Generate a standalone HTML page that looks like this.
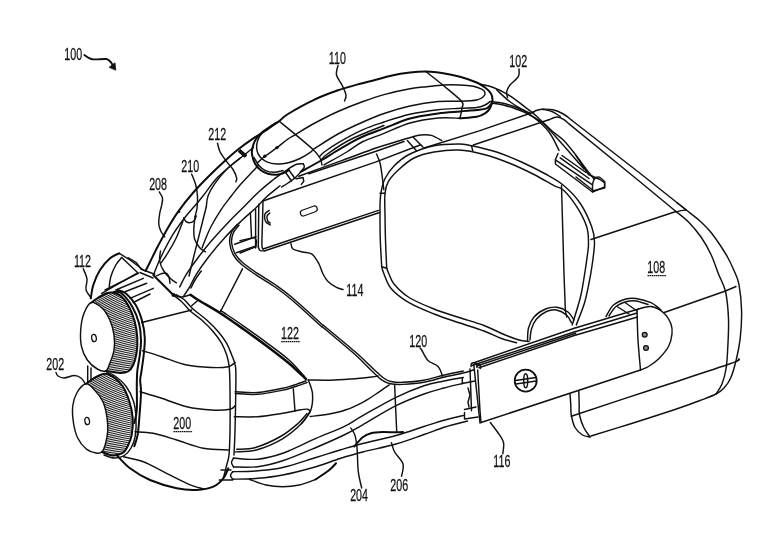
<!DOCTYPE html>
<html lang="en"><head><meta charset="utf-8"><title>Figure</title>
<style>
html,body{margin:0;padding:0;background:#fff;}
body{width:768px;height:547px;overflow:hidden;}
svg{display:block;}
svg text{font-family:"Liberation Sans",sans-serif;fill:#111;stroke:#111;stroke-width:0.25px;}
</style></head><body>
<svg width="768" height="547" viewBox="0 0 768 547">
<rect width="768" height="547" fill="#fff"/>
<g fill="#fff" stroke="#111" stroke-width="1.45" stroke-linecap="round" stroke-linejoin="round">
</g>
<g fill="none" stroke="#111" stroke-width="1.45" stroke-linecap="round" stroke-linejoin="round">
<path d="M279.2 121.3C277.7 122.3 272.9 125.5 270.0 127.5C267.1 129.5 263.8 131.2 261.7 133.5C259.6 135.8 258.3 138.4 257.5 141.0C256.7 143.6 256.3 146.7 256.7 149.3C257.1 151.9 258.3 154.7 260.0 156.8C261.7 158.9 263.9 160.6 266.7 161.8C269.5 163.0 273.1 163.8 276.7 164.0C280.3 164.2 284.4 163.6 288.3 162.7C292.2 161.8 296.4 160.2 300.0 158.5C303.6 156.8 307.8 154.2 310.0 152.7C312.2 151.2 312.5 150.0 313.0 149.5"/>
<path d="M279.2 121.3C281.9 123.5 289.9 129.9 295.5 134.6C301.1 139.3 308.9 145.6 313.0 149.5C317.1 153.4 318.5 155.4 320.0 158.0C321.5 160.6 321.7 163.8 322.0 165.0"/>
<path d="M257.5 162.7C258.8 161.6 261.8 158.8 265.0 156.3C268.2 153.8 273.2 150.6 277.0 147.7C280.8 144.8 284.9 141.2 288.0 139.0C291.1 136.8 291.3 137.1 295.5 134.6C299.7 132.1 305.9 127.8 313.0 124.0C320.1 120.2 329.7 115.2 338.0 111.5C346.3 107.8 355.3 104.3 363.0 101.5C370.7 98.7 376.2 96.7 384.0 94.6C391.8 92.5 402.9 90.1 410.0 88.8C417.1 87.5 421.1 87.3 426.7 86.7C432.2 86.1 437.8 85.3 443.3 85.0C448.9 84.7 455.0 84.8 460.0 85.0C465.0 85.2 469.7 85.6 473.3 86.3C476.9 87.0 479.8 88.2 481.7 89.2C483.6 90.2 484.7 91.2 485.0 92.5C485.3 93.8 484.7 95.5 483.3 96.7C481.9 98.0 480.6 99.2 476.7 100.0C472.8 100.8 466.4 101.0 460.0 101.2C453.6 101.5 446.3 100.7 438.0 101.5C429.7 102.3 419.0 104.0 410.0 106.0C401.0 108.0 391.8 110.8 384.0 113.5C376.2 116.2 370.7 118.6 363.0 122.0C355.3 125.4 346.3 129.4 338.0 134.0C329.7 138.6 317.2 146.9 313.0 149.5"/>
<path d="M426.0 71.7C429.0 74.1 438.1 81.0 444.0 86.0C449.9 91.0 458.7 97.8 461.7 101.5C464.7 105.2 462.3 105.2 462.0 108.0C461.7 110.8 460.3 116.6 460.0 118.3"/>
<path d="M319.5 156.5C320.3 155.8 321.2 154.3 324.3 152.0C327.4 149.7 331.6 146.5 338.0 142.8C344.4 139.1 355.3 133.1 363.0 129.6C370.7 126.1 376.2 124.6 384.0 122.0C391.8 119.4 401.0 116.2 410.0 114.2C419.0 112.2 429.7 110.7 438.0 109.7C446.3 108.7 453.6 108.7 460.0 108.3C466.4 107.9 472.5 108.0 476.7 107.5C480.9 107.0 482.8 106.0 485.0 105.0C487.2 104.0 489.2 102.2 490.0 101.7"/>
<path d="M321.0 160.0C322.2 158.9 323.1 156.9 328.0 153.5C332.9 150.1 341.2 144.2 350.5 139.5C359.8 134.8 378.4 127.8 384.0 125.5"/>
<path d="M324.0 165.0C327.8 162.8 340.3 155.9 346.8 152.0C353.3 148.1 356.8 144.6 363.0 141.5C369.2 138.4 376.2 136.5 384.0 133.4C391.8 130.3 401.0 125.6 410.0 123.0C419.0 120.4 429.7 118.8 438.0 118.0C446.3 117.2 456.3 118.2 460.0 118.3"/>
<path d="M533.0 111.9C533.7 111.6 535.4 110.7 537.0 110.2C538.6 109.8 539.8 109.3 542.5 109.2C545.2 109.1 549.5 109.0 553.0 109.8C556.5 110.6 560.2 112.3 563.3 114.0C566.4 115.7 570.3 119.2 571.7 120.2"/>
<path d="M571.7 120.2L640.0 173.3L686.3 210.0"/>
<path d="M676.3 211.9L681.0 210.6L686.3 210.0"/>
<path d="M677.0 202.7C678.5 203.9 682.7 207.1 686.3 210.0C689.9 212.9 694.8 216.4 698.8 220.0C702.8 223.6 706.5 227.1 710.0 231.3C713.5 235.5 717.1 240.7 720.0 245.0C722.9 249.3 725.2 252.8 727.5 257.0C729.8 261.2 732.1 266.0 734.0 270.5C735.9 275.0 737.6 277.4 738.9 284.2C740.2 291.0 741.4 302.3 741.6 311.3C741.8 320.3 741.1 330.3 740.2 338.4C739.3 346.5 737.8 353.4 736.2 360.0C734.6 366.6 732.7 373.3 730.7 378.0C728.7 382.7 726.5 385.3 724.0 388.0C721.5 390.7 720.0 391.9 716.0 394.0C712.0 396.1 707.1 397.8 700.0 400.5C692.9 403.2 685.2 406.1 673.5 410.0C661.8 413.9 643.8 419.7 630.0 424.0C616.2 428.3 597.5 434.0 591.0 436.0"/>
<path d="M569.6 124.4L640.0 181.7L676.0 211.5"/>
<path d="M676.0 211.5C678.1 213.2 684.3 217.8 688.5 222.0C692.7 226.2 697.2 231.6 701.0 237.0C704.8 242.4 708.1 248.3 711.0 254.5C713.9 260.7 716.1 267.8 718.5 274.0C720.9 280.2 723.8 284.0 725.5 291.5C727.2 299.0 728.1 309.4 728.5 319.0C728.9 328.6 728.1 340.7 727.7 349.0C727.3 357.3 727.0 363.2 726.0 369.0C725.0 374.8 723.7 379.8 722.0 384.0C720.3 388.2 717.0 392.3 716.0 394.0"/>
<path d="M676.0 211.5L591.0 239.5"/>
<path d="M663.5 312.7L725.5 291.0L736.0 286.5"/>
<path d="M571.3 416.3C584.4 411.9 623.5 398.9 650.0 390.2C676.5 381.4 715.2 369.0 730.0 363.8C744.8 358.6 737.3 359.6 738.8 358.8"/>
<path d="M570.0 393.8C570.1 395.7 570.6 401.5 570.8 405.0C571.0 408.5 570.6 411.2 571.3 415.0C572.0 418.8 573.1 424.2 575.0 427.5C576.9 430.8 580.0 433.4 582.5 435.0C585.0 436.6 588.8 436.7 590.0 437.0"/>
<path d="M578.8 391.3C578.9 393.6 579.1 401.1 579.2 405.0C579.3 408.9 578.7 411.2 579.5 415.0C580.3 418.8 582.0 423.8 583.8 427.5C585.5 431.2 589.0 435.4 590.0 437.0"/>
<path d="M576.0 327.7L638.5 309.0"/>
<path d="M576.0 331.5L637.0 313.0"/>
<path d="M576.0 335.0L637.5 317.0"/>
<path d="M638.5 309.0C640.6 308.6 646.8 305.9 651.0 306.5C655.2 307.1 660.2 309.8 663.5 312.7C666.8 315.6 669.6 320.4 671.0 324.0C672.4 327.6 672.4 330.2 672.0 334.0C671.6 337.8 670.8 342.3 668.5 346.5C666.2 350.7 661.8 355.7 658.5 359.0C655.2 362.3 651.5 364.7 648.5 366.5C645.5 368.3 641.8 369.4 640.5 370.0"/>
<path d="M637.0 310.0C637.2 315.0 637.4 330.0 638.0 340.0C638.6 350.0 640.1 365.0 640.5 370.0"/>
<path d="M606.0 316.5C607.2 314.6 610.2 307.9 613.5 305.0C616.8 302.1 622.2 300.1 626.0 299.0C629.8 297.9 631.8 297.9 636.0 298.5C640.2 299.1 646.8 300.8 651.0 302.7C655.2 304.6 659.3 308.8 661.0 310.0"/>
<path d="M609.0 316.0C610.2 314.4 613.0 308.9 616.0 306.5C619.0 304.1 623.7 302.4 627.0 301.5C630.3 300.6 632.5 300.5 636.0 301.0C639.5 301.5 646.0 303.9 648.0 304.5"/>
<path d="M617.0 306.5L629.0 314.0"/>
<path d="M625.0 302.5L637.0 311.0"/>
<path d="M576.0 155.7L588.5 174.5L600.0 179.5L604.7 183.0L604.7 188.0L593.5 190.7L576.0 177.0"/>
<path d="M423.3 148.3L480.0 130.6L534.0 112.0"/>
<path d="M473.3 145.0L548.8 119.8"/>
<path d="M548.8 119.8C550.2 119.3 554.6 117.1 557.0 117.0C559.4 116.9 561.2 118.0 563.3 119.2C565.4 120.4 568.5 123.5 569.6 124.4"/>
<path d="M542.5 109.2C544.1 109.6 549.0 110.3 552.0 111.5C555.0 112.7 558.8 115.7 560.2 116.5"/>
<path d="M480.0 84.2C482.2 84.8 488.3 85.6 493.3 87.5C498.3 89.4 504.4 92.3 510.0 95.8C515.6 99.3 522.0 104.7 526.7 108.3C531.4 111.9 533.8 113.7 538.0 117.5C542.2 121.3 547.8 127.2 552.0 131.0C556.2 134.8 559.3 136.0 563.3 140.0C567.3 144.0 572.1 150.3 575.8 155.0C579.4 159.7 583.6 165.8 585.2 168.0"/>
<path d="M492.5 103.3C494.3 103.6 499.3 104.0 503.3 105.0C507.3 106.0 512.6 107.7 516.7 109.2C520.8 110.7 523.7 111.7 528.0 114.0C532.3 116.3 538.0 119.3 542.5 123.0C547.0 126.7 550.8 131.5 555.0 136.0C559.2 140.5 562.7 144.5 567.5 150.0C572.3 155.5 581.2 165.8 584.0 169.0"/>
<path d="M490.0 101.5C492.2 101.8 498.9 102.3 503.3 103.3C507.8 104.3 512.2 105.9 516.7 107.5C521.2 109.1 527.8 112.1 530.0 113.0"/>
<path d="M496.7 90.0C499.1 92.1 505.1 98.2 511.0 102.5C516.9 106.8 525.7 111.1 532.0 116.0C538.3 120.9 544.3 126.0 548.8 131.7C553.3 137.4 557.3 147.3 559.0 150.4"/>
<path d="M558.0 153.5L555.4 159.8L555.4 164.0L592.5 192.0L604.6 186.9L604.6 181.7"/>
<path d="M592.5 184.8C592.8 183.9 593.1 180.5 594.2 179.2C595.3 177.9 597.5 176.7 599.2 177.1C600.9 177.5 603.7 180.9 604.6 181.7"/>
<path d="M555.4 159.8L592.5 184.8L592.5 192.0"/>
<path d="M560.2 157.8L589.0 178.5"/>
<path d="M562.0 155.5L586.0 172.5"/>
<path d="M585.2 168.0L594.2 179.2"/>
<path d="M381.7 266.7C381.5 262.2 380.6 248.6 380.3 240.0C380.0 231.4 380.0 221.7 380.0 215.0C380.0 208.3 379.9 204.2 380.2 200.0C380.4 195.8 380.7 193.6 381.5 190.0C382.3 186.4 382.9 182.5 385.0 178.5C387.1 174.5 390.0 170.0 394.0 166.0C398.0 162.0 402.3 157.9 409.0 154.5C415.7 151.1 425.7 147.4 434.0 145.7C442.3 143.9 452.8 144.0 459.0 144.0C465.2 144.0 465.2 144.4 471.5 145.7C477.8 147.0 488.2 149.3 496.5 152.0C504.8 154.7 513.2 158.2 521.5 162.0C529.8 165.8 539.4 170.6 546.5 174.5C553.6 178.4 558.4 180.9 564.0 185.7C569.6 190.4 575.4 196.2 580.0 203.0C584.6 209.8 589.3 220.2 591.7 226.7C594.1 233.2 594.4 236.0 594.5 242.0C594.6 248.0 593.4 255.7 592.5 262.5C591.6 269.3 590.4 276.2 589.0 283.0C587.6 289.8 586.5 296.2 584.4 303.2C582.3 310.2 577.6 321.3 576.3 324.9"/>
<path d="M386.7 268.3C386.5 263.6 385.8 248.9 385.5 240.0C385.2 231.1 385.1 222.8 385.0 215.0C384.9 207.2 384.4 198.9 385.0 193.3C385.6 187.8 386.1 185.6 388.3 181.7C390.5 177.8 394.0 173.9 398.3 170.0C402.6 166.1 408.1 161.0 414.0 158.0C419.9 155.0 426.5 153.3 434.0 152.0C441.5 150.7 450.7 149.6 459.0 150.0C467.3 150.4 475.7 152.3 484.0 154.5C492.3 156.7 500.7 159.7 509.0 163.0C517.3 166.3 526.5 170.7 534.0 174.5C541.5 178.3 549.1 183.1 554.0 185.7C558.9 188.3 559.5 186.5 563.3 190.0C567.1 193.5 572.8 200.6 576.7 206.7C580.6 212.8 584.7 220.6 586.7 226.7C588.7 232.8 588.4 238.2 588.5 243.3C588.6 248.4 587.9 251.3 587.1 257.1C586.4 262.9 585.1 271.2 584.0 278.0C582.9 284.8 582.3 290.0 580.3 297.8C578.3 305.6 573.6 320.4 572.2 324.9"/>
<path d="M561.5 185.7L564.0 274.0L565.4 311.3L566.8 317.0"/>
<path d="M471.5 145.7L472.7 150.7"/>
<path d="M386.7 268.3C387.1 269.2 387.8 271.4 389.0 274.0C390.2 276.6 390.7 280.1 394.0 284.0C397.3 287.9 402.3 293.3 409.0 297.5C415.7 301.7 425.7 305.7 434.0 309.0C442.3 312.3 450.7 314.8 459.0 317.5C467.3 320.2 476.5 322.7 484.0 325.5C491.5 328.3 498.2 332.1 504.0 334.5C509.8 336.9 514.8 338.8 519.0 340.0C523.2 341.2 527.3 341.2 529.0 341.5"/>
<path d="M381.7 266.7C382.1 267.9 382.4 270.3 384.0 274.0C385.6 277.7 387.3 284.2 391.5 289.0C395.7 293.8 401.9 298.5 409.0 302.7C416.1 306.9 425.7 310.7 434.0 314.0C442.3 317.3 450.7 319.9 459.0 322.7C467.3 325.5 476.9 328.4 484.0 331.0C491.1 333.6 496.1 336.6 501.5 338.5C506.9 340.4 514.0 342.0 516.5 342.7"/>
<path d="M380.0 193.3L385.0 193.3"/>
<path d="M381.7 266.7L386.7 268.3"/>
<path d="M530.0 340.0C530.2 338.2 530.4 332.5 531.5 329.0C532.6 325.5 534.0 321.9 536.5 319.0C539.0 316.1 543.2 313.0 546.5 311.5C549.8 310.0 553.2 309.4 556.5 310.0C559.8 310.6 564.0 312.9 566.5 315.0C569.0 317.1 570.7 321.4 571.5 322.7"/>
<path d="M527.5 341.0C527.7 338.8 527.4 332.0 528.5 328.0C529.6 324.0 531.2 320.2 534.0 317.0C536.8 313.8 541.7 310.6 545.5 309.0C549.3 307.4 553.2 306.8 557.0 307.3C560.8 307.8 565.2 309.9 568.0 312.0C570.8 314.1 573.0 318.7 574.0 320.0"/>
<path d="M474.0 362.7L575.7 327.7"/>
<path d="M472.0 365.5L575.7 331.5"/>
<path d="M479.0 367.7L575.7 335.0"/>
<path d="M477.5 365.8L575.7 333.2"/>
<path d="M471.0 366.5C471.1 366.0 471.0 364.1 471.5 363.5C472.0 362.9 473.2 362.6 474.0 362.7C474.8 362.8 476.0 363.3 476.5 364.0C477.0 364.7 476.9 366.5 477.0 367.0"/>
<path d="M477.0 367.0C477.1 366.6 477.3 365.1 477.8 364.8C478.3 364.5 479.6 364.4 480.0 365.0C480.4 365.6 480.4 367.9 480.5 368.5"/>
<path d="M477.7 370.0L480.0 410.7L481.0 422.5"/>
<path d="M470.0 369.0L471.5 410.7"/>
<path d="M481.0 422.5L640.5 370.0"/>
<path d="M515.5 380.5L536.0 377.5"/>
<path d="M515.8 384.0L536.3 381.0"/>
<path d="M263.0 201.0L280.0 195.0L376.0 161.9L420.8 144.8"/>
<path d="M298.8 176.3C305.9 173.7 328.8 165.3 341.7 160.6C354.6 155.9 367.3 151.0 376.0 148.0C384.7 145.0 388.1 144.2 393.8 142.5C399.5 140.8 405.9 138.8 410.4 137.5C414.9 136.2 417.3 135.3 420.8 135.0C424.3 134.7 427.8 134.5 431.3 135.4C434.8 136.3 440.0 139.7 441.7 140.6"/>
<path d="M308.8 173.8L376.0 151.3L404.0 141.5"/>
<path d="M407.3 140.6L416.7 151.0"/>
<path d="M413.5 137.5L422.9 146.9"/>
<path d="M263.0 249.0L378.5 210.4"/>
<path d="M265.0 250.8L379.6 212.5"/>
<path d="M263.0 201.0C262.9 205.0 262.6 217.7 262.4 225.0C262.2 232.3 261.8 241.0 261.9 245.0C262.0 249.0 262.8 248.3 263.0 249.0"/>
<path d="M258.8 204.2L258.3 246.9"/>
<path d="M255.6 209.4L255.6 247.9"/>
<path d="M250.4 212.5L251.5 237.5"/>
<path d="M258.3 246.9C258.6 247.5 258.9 249.8 260.0 250.5C261.1 251.2 264.2 250.8 265.0 250.8"/>
<path d="M269.2 210.4C268.5 210.9 266.0 212.3 265.2 213.5C264.4 214.7 264.5 216.3 264.6 217.7C264.7 219.1 265.1 220.8 266.0 222.0C266.9 223.2 269.5 224.5 270.2 225.0"/>
<path d="M269.8 213.0C269.4 213.4 267.8 214.7 267.3 215.5C266.8 216.3 266.9 217.0 267.0 218.0C267.1 219.0 267.5 220.7 268.0 221.5C268.5 222.3 269.8 222.8 270.2 223.0"/>
<path d="M240.0 240.6L254.6 237.5"/>
<path d="M240.0 253.0L255.6 246.9"/>
<path d="M254.6 237.5C254.9 238.1 256.3 239.4 256.5 241.0C256.7 242.6 255.8 245.9 255.6 246.9"/>
<path d="M376.5 154.0C377.1 155.5 379.1 159.5 380.0 163.0C380.9 166.5 381.4 170.6 382.0 175.0C382.6 179.4 383.5 187.2 383.8 189.6"/>
<path d="M291.0 243.8C291.3 244.7 291.1 247.6 293.0 249.0C294.9 250.4 299.3 251.1 302.5 252.0C305.7 252.9 309.2 252.2 312.0 254.2C314.8 256.2 317.2 260.7 319.0 264.0C320.8 267.3 321.5 271.1 323.0 274.0C324.5 276.9 325.7 279.2 328.0 281.5C330.3 283.8 334.5 286.4 337.0 287.7C339.5 289.0 342.0 289.2 343.0 289.5"/>
<path d="M253.3 147.5C251.6 148.9 246.9 152.9 243.3 155.8C239.7 158.7 236.1 161.2 231.7 165.0C227.3 168.8 221.5 173.1 216.7 178.3C211.9 183.5 206.7 191.4 203.0 196.0C199.3 200.6 197.8 202.4 194.7 206.0C191.6 209.6 188.3 213.0 184.7 217.7C181.1 222.4 176.6 228.5 173.0 234.3C169.4 240.1 165.8 247.1 163.0 252.7C160.2 258.3 157.8 264.1 156.3 267.7C154.8 271.3 154.2 273.2 153.8 274.3"/>
<path d="M240.0 158.3C237.8 160.1 230.9 165.0 226.7 169.2C222.5 173.4 218.1 178.8 215.0 183.3C211.9 187.8 209.4 192.1 208.0 196.0C206.6 199.9 206.6 205.0 206.3 206.8"/>
<path d="M206.3 206.8L192.2 262.7L189.0 276.0"/>
<path d="M183.8 217.7C184.1 218.2 184.7 220.2 185.5 221.0C186.3 221.8 187.4 222.7 188.8 222.7C190.2 222.7 192.6 222.1 193.8 221.0C195.1 219.9 195.9 216.8 196.3 216.0"/>
<path d="M183.0 221.0C181.9 223.8 178.8 232.4 176.3 237.7C173.8 243.0 170.5 248.5 168.0 252.7C165.5 256.9 162.4 261.0 161.3 262.7"/>
<path d="M160.5 251.0C160.4 252.7 159.1 257.7 159.7 261.0C160.2 264.3 161.9 267.9 163.8 271.0C165.7 274.1 169.2 277.4 171.3 279.3C173.4 281.2 175.5 282.1 176.3 282.7"/>
<path d="M258.3 165.0C257.5 166.0 256.4 167.5 253.3 170.8C250.2 174.1 243.7 180.8 240.0 185.0C236.3 189.2 234.4 191.9 231.3 196.0C228.2 200.1 224.6 204.3 221.3 209.3C218.0 214.3 214.1 220.7 211.3 226.0C208.5 231.3 206.2 237.4 204.7 241.0C203.2 244.6 202.6 246.6 202.2 247.7"/>
<path d="M275.0 178.3C272.5 180.4 265.1 186.2 260.0 190.8C254.9 195.4 250.0 200.7 244.7 206.0C239.4 211.3 233.6 216.9 228.0 222.7C222.4 228.5 216.3 235.2 211.3 241.0C206.3 246.8 202.2 252.1 198.0 257.7C193.8 263.2 189.4 269.4 186.3 274.3C183.2 279.2 180.8 284.9 179.7 287.0"/>
<path d="M280.0 185.8C277.8 187.6 270.7 193.0 266.7 196.7C262.7 200.3 260.2 203.6 256.0 207.7C251.8 211.8 246.5 216.0 241.3 221.0C236.1 226.0 230.2 231.6 224.7 237.7C219.1 243.8 212.7 251.6 208.0 257.7C203.3 263.8 199.4 269.4 196.3 274.3C193.2 279.2 190.8 284.9 189.7 287.0"/>
<path d="M201.3 271.0C200.2 272.5 196.7 277.2 195.0 280.0C193.3 282.8 191.7 286.7 191.0 288.0"/>
<path d="M217.5 143.3C217.9 144.7 218.5 148.6 220.0 151.7C221.5 154.8 224.5 158.6 226.7 161.7C228.9 164.8 231.6 167.2 233.3 170.0C235.0 172.8 236.3 176.4 236.7 178.3C237.1 180.2 236.0 181.1 235.8 181.7"/>
<path d="M191.7 174.2C192.4 176.0 194.8 181.2 195.8 185.0C196.8 188.8 197.3 192.8 197.5 196.7C197.7 200.6 197.4 205.0 197.0 208.3C196.6 211.6 195.3 215.3 195.0 216.7"/>
<path d="M159.2 191.9C159.8 192.9 162.1 195.7 162.5 198.0C162.9 200.3 162.0 203.4 161.5 206.0C161.0 208.6 160.1 210.4 159.7 213.5C159.2 216.6 158.6 221.3 158.8 224.3C159.0 227.3 160.0 229.4 161.0 231.5C162.0 233.6 164.1 235.9 164.7 236.8"/>
<path d="M338.0 65.5C337.8 67.1 335.8 71.8 336.5 75.0C337.2 78.2 340.4 81.7 342.0 85.0C343.6 88.3 345.6 92.3 346.0 95.0C346.4 97.7 344.8 100.0 344.5 101.0"/>
<path d="M519.0 69.0C518.9 70.3 519.8 74.0 518.3 76.7C516.8 79.4 511.9 82.5 510.0 85.0C508.1 87.5 507.1 89.6 506.7 91.7C506.3 93.8 507.4 96.5 507.5 97.5"/>
<path d="M195.0 216.7C194.8 218.8 193.9 225.5 193.8 229.3C193.8 233.1 193.7 236.2 194.7 239.3C195.7 242.4 197.9 245.6 199.7 247.7C201.5 249.8 204.5 251.1 205.5 251.8"/>
<path d="M83.3 268.8C83.9 270.5 86.5 275.5 87.0 279.0C87.5 282.5 85.3 286.4 86.0 289.6C86.7 292.8 90.4 296.6 91.3 298.0"/>
<path d="M91.5 302.5C88.5 303.3 85.8 308.7 84.0 313.3C82.2 317.9 81.1 324.4 80.7 330.0C80.3 335.6 80.4 341.7 81.5 346.7C82.6 351.7 84.7 356.3 87.3 360.0C89.9 363.7 94.2 367.2 97.3 369.0C100.4 370.8 103.6 371.9 105.7 371.0C107.8 370.1 108.4 366.8 109.8 363.3C111.2 359.8 113.3 354.7 114.0 350.0C114.7 345.3 114.7 340.0 114.0 335.0C113.3 330.0 111.8 324.4 109.8 320.0C107.8 315.6 105.3 311.2 102.3 308.3C99.2 305.4 94.5 301.7 91.5 302.5Z"/>
<path d="M86.0 383.8C83.1 384.4 79.0 389.2 76.8 393.0C74.6 396.8 73.2 401.3 72.7 406.3C72.2 411.3 72.7 417.7 73.5 423.0C74.3 428.3 75.6 433.7 77.7 438.0C79.8 442.3 83.0 446.3 86.0 448.8C89.0 451.3 93.4 452.5 96.0 453.0C98.6 453.5 100.3 453.4 101.8 452.0C103.3 450.6 104.2 448.1 105.2 444.7C106.2 441.2 107.4 436.0 107.7 431.3C108.0 426.6 107.6 421.3 106.8 416.3C106.0 411.3 104.8 405.7 102.7 401.3C100.6 396.9 97.1 392.6 94.3 389.7C91.5 386.8 88.9 383.2 86.0 383.8Z"/>
<path d="M107.0 372.5C108.2 373.0 111.1 373.2 114.3 375.5C117.5 377.8 122.8 382.0 126.0 386.3C129.2 390.6 131.8 396.0 133.5 401.3C135.2 406.6 135.7 412.2 136.0 418.0C136.3 423.8 136.0 431.3 135.2 436.3C134.4 441.3 132.8 444.8 131.0 448.0C129.2 451.2 127.1 453.8 124.3 455.5C121.5 457.2 117.7 458.1 114.3 458.0C110.9 457.9 105.7 455.5 104.0 455.0"/>
<path d="M87.7 366.0L87.7 383.0"/>
<path d="M91.0 368.0L91.0 381.0"/>
<path d="M109.2 286.7C109.5 285.0 109.7 280.3 110.8 276.7C111.9 273.1 114.0 268.2 115.8 265.0C117.6 261.8 120.7 258.8 121.7 257.5"/>
<path d="M119.2 253.3L130.0 260.0L143.3 270.0"/>
<path d="M121.7 257.5L138.3 273.3"/>
<path d="M138.3 273.3L105.0 290.0"/>
<path d="M143.3 278.3L115.8 290.0"/>
<path d="M146.7 283.3L125.0 291.7"/>
<path d="M153.3 288.3L130.0 298.3"/>
<path d="M150.0 294.0L133.3 302.5"/>
<path d="M101.7 293.3L136.7 273.3"/>
<path d="M156.7 275.8C157.6 275.4 160.3 273.9 162.0 273.5C163.7 273.1 165.5 272.7 166.7 273.3C167.9 273.9 168.4 275.3 169.0 277.0C169.6 278.7 169.8 282.2 170.0 283.3"/>
<path d="M189.7 287.0L183.3 296.7"/>
<path d="M173.3 295.0C174.7 295.3 178.8 297.1 181.7 297.0C184.6 296.9 189.0 295.1 190.5 294.7"/>
<path d="M173.3 295.0C174.7 296.1 178.9 299.1 181.7 301.7C184.5 304.3 186.7 307.8 190.0 310.8C193.3 313.9 197.8 316.5 201.7 320.0C205.6 323.5 210.0 327.8 213.3 331.7C216.6 335.6 219.5 339.4 221.7 343.3C223.9 347.2 225.4 351.1 226.7 355.0C227.9 358.9 228.6 360.9 229.2 366.7C229.8 372.5 229.9 379.3 230.0 390.0C230.1 400.7 230.2 420.2 230.0 431.0C229.8 441.8 229.6 449.3 229.0 455.0C228.4 460.7 227.6 461.1 226.7 465.0C225.8 468.9 223.9 476.1 223.3 478.3"/>
<path d="M176.0 294.5C177.3 295.3 181.1 297.1 184.0 299.5C186.9 301.9 189.5 305.8 193.3 309.2C197.1 312.6 202.5 316.2 206.7 320.0C210.9 323.8 215.0 327.8 218.3 331.7C221.6 335.6 224.5 339.4 226.7 343.3C228.9 347.2 230.2 351.1 231.7 355.0C233.2 358.9 234.8 360.9 235.5 366.7C236.2 372.5 235.9 379.3 235.8 390.0C235.7 400.7 235.3 420.2 235.0 431.0C234.7 441.8 234.2 451.0 234.0 455.0"/>
<path d="M141.7 322.5L191.7 310.0"/>
<path d="M191.7 305.8L197.5 300.8"/>
<path d="M142.5 350.8C145.7 351.8 154.3 354.3 161.7 356.7C169.1 359.1 178.4 363.2 186.7 365.0C195.0 366.8 204.8 367.2 211.7 367.5C218.6 367.8 224.4 367.5 228.3 366.7C232.2 365.9 233.9 363.2 235.0 362.5"/>
<path d="M140.0 391.7C143.6 392.8 153.9 395.8 161.7 398.3C169.5 400.8 178.4 404.8 186.7 406.7C195.0 408.6 204.5 409.6 211.7 410.0C218.9 410.4 226.1 409.9 230.0 409.2C233.9 408.5 234.2 406.4 235.0 405.8"/>
<path d="M235.2 391.7C238.9 391.8 249.8 393.1 257.7 392.5C265.6 391.9 275.8 389.8 282.7 388.3C289.6 386.8 295.4 384.6 299.3 383.3C303.2 382.1 304.9 381.2 306.0 380.8"/>
<path d="M235.2 393.5C238.9 393.6 249.7 394.9 257.7 394.3C265.7 393.7 276.0 391.6 283.0 390.1C290.0 388.6 295.8 386.4 299.8 385.1C303.8 383.8 305.8 382.9 307.0 382.5"/>
<path d="M293.3 388.7L295.0 411.0"/>
<path d="M242.5 268.8L220.0 312.5"/>
<path d="M237.2 224.3C236.2 225.7 232.6 229.6 231.3 232.7C230.1 235.8 229.4 239.1 229.7 242.7C230.0 246.3 231.1 250.7 233.0 254.3C234.9 257.9 237.5 260.9 241.3 264.3C245.1 267.7 250.2 270.9 256.0 274.8C261.8 278.7 269.8 283.3 275.8 287.5C281.8 291.7 284.3 293.4 292.0 300.0C299.7 306.6 317.0 322.5 322.0 327.0"/>
<path d="M239.0 225.3C238.0 226.6 234.4 230.3 233.2 233.2C232.0 236.1 231.3 239.2 231.6 242.5C231.9 245.8 232.9 249.9 234.8 253.3C236.7 256.7 239.1 259.5 242.8 262.8C246.5 266.1 251.5 269.4 257.2 273.2C262.9 277.0 271.0 281.7 277.0 285.9C283.0 290.1 285.6 291.9 293.3 298.5C301.0 305.1 318.4 321.1 323.4 325.6"/>
<path d="M135.0 431.7C138.1 432.0 146.4 431.9 153.3 433.3C160.2 434.7 168.4 437.5 176.7 440.0C185.0 442.5 194.7 446.6 203.3 448.3C211.9 450.0 224.1 449.7 228.3 450.0"/>
<path d="M123.3 456.7C126.6 457.5 136.6 459.2 143.3 461.7C150.0 464.2 156.1 468.1 163.3 471.7C170.5 475.3 180.0 480.4 186.7 483.3C193.4 486.2 200.5 488.1 203.3 489.0"/>
<path d="M308.3 380.0C309.0 382.3 312.1 388.7 312.5 393.8C312.9 398.9 312.5 405.6 310.6 410.6C308.7 415.6 302.9 421.6 301.3 423.8"/>
<path d="M234.3 416.7C238.2 416.7 249.6 417.3 257.7 416.7C265.8 416.1 275.8 414.4 282.7 413.3C289.6 412.2 295.1 410.7 299.3 410.0C303.5 409.3 305.9 408.9 307.7 409.2C309.5 409.5 309.8 411.3 310.2 411.7"/>
<path d="M310.6 410.6C309.1 412.8 306.0 419.1 301.3 423.8C296.6 428.5 290.0 434.4 282.5 438.8C275.0 443.2 264.1 447.8 256.3 450.0C248.5 452.2 239.1 451.6 235.6 451.9"/>
<path d="M307.0 413.5C305.5 415.2 302.4 419.7 298.0 423.5C293.6 427.3 287.6 432.5 280.5 436.5C273.4 440.5 262.8 445.4 255.5 447.5C248.2 449.6 239.8 449.0 236.7 449.3"/>
<path d="M233.5 458.0C237.5 458.2 249.5 460.0 257.7 459.2C265.9 458.4 273.0 456.8 282.7 453.3C292.4 449.8 305.8 442.7 316.0 438.3C326.2 433.9 336.2 430.5 344.0 426.7C351.8 422.9 354.0 420.6 362.7 415.7C371.4 410.8 385.8 402.3 396.0 397.3C406.2 392.3 416.0 388.4 424.0 385.7C432.0 383.0 437.4 382.4 444.0 381.0C450.6 379.6 460.1 378.1 463.3 377.5"/>
<path d="M233.5 467.0C237.5 466.9 249.5 467.7 257.7 466.7C265.9 465.7 273.0 464.0 282.7 460.8C292.4 457.6 305.8 451.8 316.0 447.5C326.2 443.2 336.2 438.8 344.0 435.0C351.8 431.2 354.0 429.7 362.7 424.8C371.4 419.9 385.8 410.8 396.0 405.7C406.2 400.6 416.0 396.9 424.0 394.0C432.0 391.1 437.4 389.8 444.0 388.0C450.6 386.2 460.1 384.1 463.3 383.3"/>
<path d="M232.7 471.7C236.9 471.6 249.4 471.5 257.7 470.8C266.0 470.1 273.0 469.7 282.7 467.5C292.4 465.3 306.4 460.4 316.0 457.5C325.6 454.6 332.2 452.3 340.0 450.0C347.8 447.7 353.4 445.9 362.7 443.5C372.0 441.1 385.8 438.3 396.0 435.5C406.2 432.7 415.8 429.1 424.0 426.5C432.2 423.9 438.4 421.8 445.0 420.0C451.6 418.2 460.2 416.2 463.3 415.5"/>
<path d="M232.7 479.2C236.9 479.1 249.4 479.0 257.7 478.3C266.0 477.6 273.0 476.9 282.7 475.0C292.4 473.1 306.4 469.4 316.0 466.7C325.6 463.9 332.2 460.9 340.0 458.5C347.8 456.1 353.4 454.4 362.7 452.0C372.0 449.6 385.8 446.9 396.0 444.0C406.2 441.1 415.8 437.3 424.0 434.5C432.2 431.7 437.8 429.2 445.0 427.0C452.2 424.8 463.8 422.0 467.5 421.0"/>
<path d="M249.3 479.2C252.1 480.2 260.4 483.8 266.0 485.0C271.6 486.2 277.1 486.7 282.7 486.7C288.2 486.7 293.8 486.2 299.3 485.0C304.9 483.8 313.2 480.2 316.0 479.2"/>
<path d="M221.0 470.0L231.0 470.0"/>
<path d="M219.3 480.0L232.7 480.0"/>
<path d="M233.5 458.0C233.2 458.8 231.5 461.0 231.5 462.5C231.5 464.0 233.2 466.2 233.5 467.0"/>
<path d="M232.7 471.7C232.3 472.3 230.5 474.2 230.5 475.5C230.5 476.8 232.3 478.6 232.7 479.2"/>
<path d="M361.7 488.0C361.1 485.3 359.1 478.4 358.3 471.7C357.5 465.0 357.6 454.1 357.0 448.0C356.4 441.9 356.0 438.7 355.0 435.4C354.0 432.1 351.5 429.2 350.8 428.0"/>
<path d="M401.5 476.3C401.8 474.2 404.1 468.1 403.0 464.0C401.9 459.9 396.5 455.6 394.6 452.0C392.7 448.4 392.0 444.2 391.5 442.7"/>
<path d="M502.8 453.8C502.9 451.9 504.3 446.1 503.5 442.5C502.7 438.9 500.0 435.8 497.8 432.5C495.6 429.2 491.6 424.2 490.3 422.5"/>
<path d="M420.0 348.0C420.3 348.3 420.4 347.9 421.7 350.0C423.0 352.1 425.2 357.6 428.0 360.4C430.8 363.2 435.9 364.1 438.3 366.7C440.7 369.3 441.8 374.4 442.5 376.0"/>
<path d="M322.0 326.5C327.4 331.1 346.2 346.6 354.5 354.0C362.8 361.4 367.1 366.4 371.7 370.8C376.3 375.2 378.9 378.0 382.0 380.2C385.1 382.4 386.9 383.1 390.4 383.8C393.9 384.5 397.4 384.6 403.0 384.4C408.6 384.1 416.9 383.5 423.8 382.3C430.7 381.1 438.0 378.6 444.6 377.0C451.2 375.4 458.4 374.2 463.3 373.0C468.2 371.8 472.1 370.3 473.8 369.8"/>
<path d="M323.4 325.2C328.8 329.8 347.6 345.2 356.0 352.5C364.4 359.8 368.9 364.8 373.5 369.0C378.1 373.2 380.6 375.9 383.5 378.0C386.4 380.1 387.8 380.8 391.0 381.5C394.2 382.2 397.5 382.5 403.0 382.3C408.5 382.1 416.9 381.4 423.8 380.2C430.7 379.0 438.0 376.5 444.6 375.0C451.2 373.5 460.2 371.7 463.3 371.0"/>
<path d="M394.6 384.4L396.7 431.3"/>
<path d="M308.3 380.0C311.9 380.0 322.9 380.4 330.0 380.2C337.1 380.0 343.9 379.5 350.8 379.0C357.8 378.5 367.2 377.5 371.7 377.0C376.2 376.5 376.9 376.2 378.0 376.0"/>
<path d="M310.2 416.5C313.4 416.1 323.3 415.1 329.3 414.0C335.3 412.9 340.4 411.8 346.0 409.8C351.6 407.9 357.7 404.9 362.7 402.3C367.7 399.7 371.6 396.9 376.0 394.0C380.4 391.1 387.1 386.3 389.3 384.8"/>
<path d="M473.8 364.6L480.0 423.0"/>
<path d="M462.3 378.0L462.3 383.5L475.0 381.0"/>
<path d="M464.5 409.5L476.0 407.0"/>
<path d="M464.5 412.5L464.5 419.0L478.0 417.0"/>
<path d="M468.0 388.0L470.0 395.0L468.0 402.0L469.0 407.0"/>
<path d="M234.7 244.3L256.0 236.8"/>
<path d="M236.3 252.7L256.0 246.0"/>
<path d="M141.3 269.3L154.7 274.3"/>
<path d="M140.0 272.5L153.0 278.0"/>
<path d="M128.0 257.7L136.3 262.7L141.3 269.3"/>
<path d="M56.0 372.5C56.3 373.1 56.6 375.1 58.0 376.0C59.4 376.9 61.6 378.1 64.3 378.0C67.0 377.9 71.5 375.5 74.3 375.5C77.1 375.5 79.2 376.6 81.0 378.0C82.8 379.4 84.5 382.8 85.2 383.8"/>
<path d="M275.0 178.3C277.2 176.8 284.7 171.3 288.3 169.0C291.9 166.7 294.2 165.2 296.7 164.3C299.2 163.4 302.2 163.9 303.3 163.8"/>
<path d="M303.3 163.8C303.5 164.3 304.5 165.9 304.3 167.0C304.1 168.1 302.4 169.9 302.0 170.5"/>
<path d="M302.0 170.5C301.0 171.6 298.3 174.9 296.0 177.0C293.7 179.1 290.4 181.3 288.0 183.0C285.6 184.7 282.8 186.3 281.7 187.0"/>
<path d="M288.3 169.3L295.0 178.5"/>
<path d="M285.0 171.5L291.5 181.0"/>
<path d="M296.3 178.8L303.0 177.5L303.8 181.3L301.3 184.4"/>
<path d="M220.5 310.3C224.4 313.0 236.2 320.8 244.0 326.3C251.8 331.8 260.0 337.7 267.5 343.3C275.0 348.9 282.8 354.5 289.0 360.0C295.2 365.5 301.9 373.8 304.5 376.5"/>
<path d="M254.0 157.5C254.8 158.8 256.7 162.9 258.5 165.0C260.3 167.1 262.4 169.1 265.0 170.3C267.6 171.5 271.0 172.3 274.0 172.3C277.0 172.3 281.5 170.8 283.0 170.5"/>
</g>
<g fill="none" stroke="#111" stroke-width="0.95" stroke-linecap="butt">
<clipPath id="k0"><path d="M93.0 303.3L94.2 303.8L95.4 304.3L96.6 304.8L97.8 305.4L99.0 305.9L100.1 306.6L101.2 307.3L102.2 308.2L103.1 309.1L103.9 310.1L104.7 311.2L105.5 312.2L106.2 313.3L106.9 314.4L107.6 315.5L108.2 316.7L108.8 317.9L109.4 319.0L109.9 320.2L110.4 321.4L110.9 322.7L111.3 323.9L111.7 325.1L112.1 326.4L112.5 327.6L112.8 328.9L113.1 330.2L113.4 331.5L113.6 332.7L113.9 334.0L114.0 335.3L114.2 336.6L114.3 337.9L114.4 339.2L114.5 340.5L114.5 341.8L114.5 343.2L114.5 344.5L114.4 345.8L114.3 347.1L114.2 348.4L114.0 349.7L113.8 351.0L113.6 352.2L113.2 353.5L112.9 354.8L112.5 356.0L112.1 357.2L111.6 358.5L111.2 359.7L110.7 360.9L110.2 362.1L109.8 363.4L109.3 364.6L108.8 365.8L108.2 367.0L107.7 368.2L107.1 369.3L106.5 370.5L121.0 372.8L122.4 372.7L123.8 372.6L125.2 372.4L126.6 372.1L127.8 371.6L129.0 370.8L130.0 369.8L130.9 368.8L131.7 367.6L132.5 366.4L133.1 365.2L133.7 363.9L134.2 362.6L134.6 361.3L135.1 359.9L135.4 358.6L135.8 357.2L136.0 355.9L136.3 354.5L136.5 353.1L136.7 351.7L136.9 350.3L137.0 348.9L137.2 347.5L137.3 346.1L137.3 344.7L137.4 343.3L137.4 341.9L137.4 340.5L137.3 339.1L137.3 337.7L137.2 336.3L137.1 334.9L136.9 333.5L136.8 332.1L136.6 330.8L136.4 329.4L136.1 328.0L135.9 326.6L135.6 325.2L135.3 323.9L135.0 322.5L134.7 321.1L134.3 319.8L133.9 318.5L133.4 317.1L133.0 315.8L132.5 314.5L132.0 313.2L131.5 311.9L130.9 310.6L130.3 309.3L129.7 308.1L129.1 306.8L128.4 305.6L127.7 304.4L126.9 303.2L126.1 302.0L125.3 300.9L124.5 299.8L123.6 298.7L122.6 297.7L121.7 296.7L120.6 295.7L119.5 294.9L118.3 294.1L117.1 293.4L115.8 292.9L114.4 292.6L113.0 292.5L111.6 292.5L110.3 292.8L108.9 293.1L107.6 293.5L106.2 294.0L104.9 294.5L103.6 295.0L102.3 295.5L101.0 296.0Z"/></clipPath><path clip-path="url(#k0)" d="M80.0 298.0L140.0 266.1M80.0 299.6L140.0 268.2M80.0 301.1L140.0 270.3M80.0 302.7L140.0 272.4M80.0 304.2L140.0 274.5M80.0 305.8L140.0 276.6M80.0 307.3L140.0 278.6M80.0 308.9L140.0 280.7M80.0 310.4L140.0 282.8M80.0 312.0L140.0 284.9M80.0 313.5L140.0 286.9M80.0 315.1L140.0 289.0M80.0 316.6L140.0 291.1M80.0 318.2L140.0 293.1M80.0 319.7L140.0 295.2M80.0 321.3L140.0 297.2M80.0 322.8L140.0 299.3M80.0 324.4L140.0 301.3M80.0 325.9L140.0 303.4M80.0 327.5L140.0 305.4M80.0 329.0L140.0 307.5M80.0 330.6L140.0 309.5M80.0 332.1L140.0 311.5M80.0 333.7L140.0 313.6M80.0 335.2L140.0 315.6M80.0 336.8L140.0 317.6M80.0 338.3L140.0 319.6M80.0 339.9L140.0 321.7M80.0 341.4L140.0 323.7M80.0 343.0L140.0 325.7M80.0 344.5L140.0 327.7M80.0 346.1L140.0 329.7M80.0 347.6L140.0 331.7M80.0 349.2L140.0 333.7M80.0 350.7L140.0 335.8M80.0 352.3L140.0 337.8M80.0 353.8L140.0 339.8M80.0 355.4L140.0 341.8M80.0 356.9L140.0 343.8M80.0 358.5L140.0 345.8M80.0 360.0L140.0 347.8M80.0 361.6L140.0 349.8M80.0 363.1L140.0 351.8M80.0 364.7L140.0 353.8M80.0 366.2L140.0 355.8M80.0 367.8L140.0 357.8M80.0 369.3L140.0 359.8M80.0 370.9L140.0 361.7M80.0 372.4L140.0 363.7M80.0 374.0L140.0 365.7M80.0 375.5L140.0 367.7M80.0 377.1L140.0 369.7M80.0 378.6L140.0 371.7M80.0 380.2L140.0 373.7M80.0 381.7L140.0 375.7M80.0 383.3L140.0 377.7M80.0 384.8L140.0 379.6M80.0 386.4L140.0 381.6M80.0 387.9L140.0 383.6M80.0 389.5L140.0 385.6M80.0 391.0L140.0 387.6M80.0 392.6L140.0 389.4M80.0 394.1L140.0 391.0M80.0 395.7L140.0 392.5M80.0 397.2L140.0 394.1M80.0 398.8L140.0 395.6M80.0 400.3L140.0 397.2M80.0 401.9L140.0 398.7M80.0 403.4L140.0 400.3M80.0 405.0L140.0 401.8M80.0 406.5L140.0 403.4M80.0 408.1L140.0 404.9M80.0 409.6L140.0 406.5M80.0 411.2L140.0 408.0M80.0 412.7L140.0 409.6M80.0 414.3L140.0 411.1M80.0 415.8L140.0 412.7M80.0 417.4L140.0 414.2M80.0 418.9L140.0 415.8M80.0 420.5L140.0 417.3M80.0 422.0L140.0 418.9M80.0 423.6L140.0 420.4M80.0 425.1L140.0 422.0M80.0 426.7L140.0 423.5M80.0 428.2L140.0 425.1M80.0 429.8L140.0 426.6M80.0 431.3L140.0 428.2"/>
<clipPath id="k1"><path d="M87.5 384.5L88.6 385.2L89.6 385.9L90.7 386.6L91.7 387.3L92.7 388.1L93.6 389.0L94.5 389.9L95.3 390.8L96.1 391.8L97.0 392.8L97.8 393.7L98.5 394.7L99.3 395.7L100.0 396.8L100.7 397.8L101.4 398.9L102.0 400.0L102.6 401.1L103.1 402.3L103.6 403.4L104.0 404.6L104.4 405.8L104.8 407.0L105.1 408.3L105.4 409.5L105.7 410.7L106.0 412.0L106.2 413.2L106.5 414.4L106.7 415.7L106.9 416.9L107.1 418.2L107.3 419.4L107.4 420.7L107.5 421.9L107.6 423.2L107.7 424.5L107.7 425.7L107.8 427.0L107.8 428.3L107.8 429.5L107.7 430.8L107.6 432.1L107.5 433.3L107.4 434.6L107.2 435.8L107.0 437.1L106.7 438.3L106.5 439.5L106.2 440.8L105.9 442.0L105.6 443.2L105.3 444.5L104.9 445.7L104.5 446.9L104.1 448.1L103.6 449.2L103.0 450.4L102.5 451.5L113.5 455.3L114.9 455.0L116.3 454.8L117.7 454.6L119.2 454.3L120.5 453.9L121.9 453.4L123.1 452.7L124.2 451.8L125.2 450.7L126.0 449.5L126.7 448.3L127.3 447.0L128.0 445.7L128.6 444.4L129.2 443.1L129.7 441.8L130.3 440.4L130.7 439.1L131.1 437.7L131.5 436.3L131.8 434.9L132.0 433.5L132.2 432.1L132.4 430.6L132.5 429.2L132.6 427.8L132.7 426.4L132.8 424.9L132.8 423.5L132.9 422.1L132.8 420.6L132.8 419.2L132.7 417.7L132.5 416.3L132.4 414.9L132.2 413.5L131.9 412.1L131.7 410.6L131.4 409.2L131.1 407.8L130.8 406.4L130.4 405.1L130.0 403.7L129.6 402.3L129.2 400.9L128.7 399.6L128.3 398.2L127.8 396.8L127.3 395.5L126.7 394.2L126.2 392.8L125.6 391.5L125.0 390.2L124.3 389.0L123.6 387.7L122.8 386.5L122.0 385.3L121.1 384.2L120.2 383.1L119.3 382.0L118.3 381.0L117.2 380.0L116.2 379.0L115.1 378.1L114.0 377.2L112.8 376.4L111.6 375.6L110.3 374.9L109.0 374.4L107.6 374.0L106.2 373.8L104.7 373.8L103.3 374.0L102.0 374.4L100.6 374.9L99.3 375.5L98.0 376.2L96.8 376.9L95.5 377.5Z"/></clipPath><path clip-path="url(#k1)" d="M72.0 380.0L135.0 346.5M72.0 381.6L135.0 348.6M72.0 383.1L135.0 350.8M72.0 384.7L135.0 352.9M72.0 386.2L135.0 355.0M72.0 387.8L135.0 357.1M72.0 389.3L135.0 359.2M72.0 390.9L135.0 361.3M72.0 392.4L135.0 363.4M72.0 394.0L135.0 365.5M72.0 395.5L135.0 367.6M72.0 397.1L135.0 369.7M72.0 398.6L135.0 371.8M72.0 400.2L135.0 373.9M72.0 401.7L135.0 376.0M72.0 403.3L135.0 378.0M72.0 404.8L135.0 380.1M72.0 406.4L135.0 382.2M72.0 407.9L135.0 384.2M72.0 409.5L135.0 386.3M72.0 411.0L135.0 388.4M72.0 412.6L135.0 390.4M72.0 414.1L135.0 392.5M72.0 415.7L135.0 394.5M72.0 417.2L135.0 396.6M72.0 418.8L135.0 398.7M72.0 420.3L135.0 400.7M72.0 421.9L135.0 402.7M72.0 423.4L135.0 404.8M72.0 425.0L135.0 406.8M72.0 426.5L135.0 408.9M72.0 428.1L135.0 410.9M72.0 429.6L135.0 412.9M72.0 431.2L135.0 415.0M72.0 432.7L135.0 417.0M72.0 434.3L135.0 419.0M72.0 435.8L135.0 421.1M72.0 437.4L135.0 423.1M72.0 438.9L135.0 425.1M72.0 440.5L135.0 427.1M72.0 442.0L135.0 429.2M72.0 443.6L135.0 431.2M72.0 445.1L135.0 433.2M72.0 446.7L135.0 435.2M72.0 448.2L135.0 437.2M72.0 449.8L135.0 439.3M72.0 451.3L135.0 441.3M72.0 452.9L135.0 443.3M72.0 454.4L135.0 445.3M72.0 456.0L135.0 447.3M72.0 457.5L135.0 449.3M72.0 459.1L135.0 451.3M72.0 460.6L135.0 453.4M72.0 462.2L135.0 455.4M72.0 463.7L135.0 457.4M72.0 465.3L135.0 459.4M72.0 466.8L135.0 461.4M72.0 468.4L135.0 463.4M72.0 469.9L135.0 465.4M72.0 471.5L135.0 467.4M72.0 473.0L135.0 469.4M72.0 474.6L135.0 471.2M72.0 476.1L135.0 472.8M72.0 477.7L135.0 474.3M72.0 479.2L135.0 475.9M72.0 480.8L135.0 477.4M72.0 482.3L135.0 479.0M72.0 483.9L135.0 480.5M72.0 485.4L135.0 482.1M72.0 487.0L135.0 483.6M72.0 488.5L135.0 485.2M72.0 490.1L135.0 486.7M72.0 491.6L135.0 488.3M72.0 493.2L135.0 489.8M72.0 494.7L135.0 491.4M72.0 496.3L135.0 492.9M72.0 497.8L135.0 494.5M72.0 499.4L135.0 496.0M72.0 500.9L135.0 497.6M72.0 502.5L135.0 499.1M72.0 504.0L135.0 500.7M72.0 505.6L135.0 502.2M72.0 507.1L135.0 503.8M72.0 508.7L135.0 505.3M72.0 510.2L135.0 506.9M72.0 511.8L135.0 508.4M72.0 513.3L135.0 510.0"/>
</g>
<g fill="none" stroke="#0c0c0c" stroke-width="2.00" stroke-linecap="round" stroke-linejoin="round">
<path d="M289.0 170.0C288.0 170.6 285.1 172.5 283.0 173.3C280.9 174.1 279.2 174.7 276.7 174.8C274.2 174.9 270.7 174.6 268.0 173.8C265.3 173.0 262.7 171.7 260.5 170.0C258.3 168.3 256.4 166.1 255.0 163.5C253.6 160.9 252.4 156.9 252.0 154.3C251.6 151.7 251.9 150.2 252.5 147.7C253.1 145.2 254.3 141.8 255.8 139.3C257.3 136.8 259.3 134.8 261.7 132.7C264.1 130.6 267.1 128.7 270.0 126.8C272.9 124.9 276.0 123.4 279.0 121.3C282.0 119.2 282.3 117.5 288.0 114.0C293.7 110.5 304.7 104.2 313.0 100.3C321.3 96.3 330.3 93.0 338.0 90.3C345.7 87.6 352.8 85.7 359.0 84.0C365.2 82.3 369.5 81.4 375.0 80.0C380.5 78.6 386.2 76.8 392.0 75.5C397.8 74.2 404.2 73.2 410.0 72.5C415.8 71.8 421.1 71.4 426.7 71.5C432.2 71.6 437.8 72.4 443.3 73.3C448.9 74.2 454.4 75.2 460.0 76.7C465.6 78.2 472.5 80.7 476.7 82.5C480.9 84.3 482.6 85.7 485.0 87.5C487.4 89.3 489.6 91.2 490.8 93.3C492.1 95.4 492.6 97.5 492.5 100.0C492.4 102.5 491.2 106.1 490.0 108.3C488.8 110.5 487.2 111.9 485.0 113.3C482.8 114.7 480.9 115.9 476.7 116.7C472.5 117.5 462.8 118.0 460.0 118.3"/>
<path d="M300.6 171.9C304.2 169.9 316.4 163.2 322.0 160.0C327.6 156.8 329.2 155.4 334.0 152.5C338.8 149.6 345.7 145.5 350.5 142.8C355.3 140.1 357.4 138.9 363.0 136.5C368.6 134.1 376.2 131.4 384.0 128.4C391.8 125.4 401.0 121.0 410.0 118.5C419.0 116.0 429.7 114.7 438.0 113.5C446.3 112.3 453.6 112.1 460.0 111.5C466.4 110.9 472.2 110.5 476.7 110.0C481.1 109.5 484.2 109.4 486.7 108.3C489.2 107.2 490.9 104.1 491.7 103.3"/>
<path d="M275.8 123.0C274.3 124.2 270.4 127.5 266.7 130.0C262.9 132.6 258.0 135.1 253.3 138.3C248.6 141.5 242.7 145.7 238.3 149.2C233.9 152.7 231.4 154.9 226.7 159.2C222.0 163.5 215.6 169.4 210.0 175.0C204.4 180.6 198.6 186.4 193.3 192.5C188.0 198.6 182.2 205.9 178.0 211.8C173.8 217.7 171.3 222.0 168.0 227.7C164.7 233.4 161.1 240.2 158.0 246.0C154.9 251.8 151.8 258.5 149.7 262.7C147.6 266.9 146.2 269.6 145.5 271.0"/>
<path d="M91.5 302.5C92.9 301.5 97.4 298.2 99.8 296.7C102.2 295.2 103.9 294.2 106.0 293.5C108.1 292.8 109.8 292.1 112.3 292.5C114.8 292.9 117.9 293.4 120.7 295.8C123.5 298.2 126.7 302.4 129.0 306.7C131.3 311.0 133.4 316.4 134.8 321.7C136.2 327.0 137.0 333.0 137.3 338.3C137.6 343.6 137.2 348.9 136.5 353.3C135.8 357.8 134.6 362.0 133.2 365.0C131.8 368.0 130.2 370.2 128.0 371.5C125.8 372.8 123.7 373.1 120.0 373.0C116.3 372.9 108.1 371.3 105.7 371.0"/>
<path d="M114.0 291.7C115.2 292.0 118.5 290.8 121.5 293.3C124.5 295.8 129.4 301.7 132.3 306.7C135.2 311.7 137.6 317.8 139.0 323.3C140.4 328.9 140.9 334.7 141.0 340.0C141.1 345.3 140.4 349.8 139.8 355.0C139.2 360.2 137.8 366.1 137.3 371.0C136.8 375.9 136.9 378.2 136.8 384.7C136.7 391.1 137.2 403.3 136.8 409.7C136.4 416.1 134.7 420.8 134.3 423.0"/>
<path d="M117.3 290.0C118.7 290.6 122.6 290.8 125.7 293.3C128.8 295.8 132.9 300.3 135.7 305.0C138.5 309.7 140.8 316.1 142.3 321.7C143.8 327.2 144.6 332.8 144.8 338.3C145.0 343.9 144.2 349.6 143.7 355.0C143.1 360.4 142.1 366.8 141.5 371.0C140.9 375.2 140.3 376.3 140.2 380.0C140.1 383.7 141.2 386.7 141.0 393.0C140.8 399.3 139.9 411.1 139.3 418.0C138.8 424.9 138.5 430.0 137.7 434.7C136.9 439.4 134.9 444.4 134.3 446.3"/>
<path d="M86.0 383.8C87.4 382.8 91.2 379.7 94.3 378.0C97.3 376.3 101.2 374.1 104.3 373.8C107.4 373.5 109.6 374.2 112.7 376.3C115.8 378.4 119.9 382.1 122.7 386.3C125.5 390.5 127.6 396.0 129.3 401.3C131.0 406.6 132.3 412.4 132.7 418.0C133.1 423.6 132.6 430.0 131.8 434.7C131.0 439.4 129.2 443.2 127.7 446.3C126.2 449.4 125.2 451.5 122.7 453.0C120.2 454.5 116.2 455.7 112.7 455.5C109.2 455.3 103.6 452.6 101.8 452.0"/>
<path d="M90.8 298.3C91.2 296.1 91.8 289.7 93.3 285.0C94.8 280.3 97.2 274.4 100.0 270.0C102.8 265.6 106.8 261.1 110.0 258.3C113.2 255.5 117.7 254.1 119.2 253.3"/>
<path d="M153.3 275.0C155.0 276.7 160.0 281.7 163.3 285.0C166.6 288.3 171.6 293.3 173.3 295.0"/>
<path d="M116.7 455.0C118.9 457.2 124.5 464.1 130.0 468.3C135.6 472.5 142.2 476.7 150.0 480.0C157.8 483.3 168.9 486.6 176.7 488.3C184.5 490.0 190.6 490.3 196.7 490.0C202.8 489.7 208.9 488.6 213.3 486.7C217.7 484.8 220.8 481.4 223.3 478.3C225.8 475.2 227.5 470.0 228.3 468.3"/>
<path d="M316.0 479.2C318.2 477.7 326.0 472.6 329.3 470.0C332.6 467.4 334.9 464.4 336.0 463.3"/>
<path d="M354.3 446.5C355.7 445.0 359.9 439.5 362.7 437.3C365.5 435.1 367.7 434.1 371.0 433.2C374.3 432.3 378.5 432.1 382.7 432.0C386.9 431.9 392.6 432.3 396.0 432.3C399.4 432.3 401.8 432.1 403.0 432.0"/>
</g>
<g fill="none" stroke="#0c0c0c" stroke-width="2.5" stroke-linecap="round" stroke-linejoin="round">
<path d="M190.5 294.7C191.8 295.6 193.4 296.9 198.3 300.0C203.2 303.1 212.5 308.2 220.0 313.0C227.5 317.8 235.5 323.5 243.3 329.0C251.1 334.5 259.2 340.4 266.7 346.0C274.1 351.6 282.8 358.2 288.0 362.5C293.2 366.8 295.0 368.8 298.0 371.5C301.0 374.2 304.7 377.8 306.0 379.0"/>
</g>
<g opacity="0.999">
<circle cx="264.8" cy="156.3" r="1.7" fill="#111"/>
<circle cx="277" cy="147.6" r="1.7" fill="#111"/>
<circle cx="644.7" cy="334.7" r="2.4" fill="#888" stroke="#111" stroke-width="1.3"/>
<circle cx="646" cy="348" r="2.4" fill="#888" stroke="#111" stroke-width="1.3"/>
<circle cx="525.7" cy="380.7" r="11" fill="none" stroke="#111" stroke-width="1.8"/>
<ellipse cx="525.7" cy="380.7" rx="2" ry="7" fill="none" stroke="#111" stroke-width="1.5"/>
<rect x="300" y="208.1" width="17.6" height="5.8" rx="2.9" fill="none" stroke="#111" stroke-width="1.2" transform="rotate(-20 308.8 211)"/>
<path d="M238 151.5L244.6 157.3L247 155.3L240.5 149.5Z" fill="#111" stroke="#111" stroke-width="1"/>
<circle cx="179" cy="211.7" r="1.4" fill="#111"/>
<ellipse cx="94" cy="338" rx="2.3" ry="3.7" fill="none" stroke="#111" stroke-width="1.3" transform="rotate(-8 94 338)"/>
<ellipse cx="87.2" cy="421" rx="2.3" ry="3.7" fill="none" stroke="#111" stroke-width="1.3" transform="rotate(-8 87.2 421)"/>
<circle cx="173.5" cy="295" r="2" fill="#111"/>
<text transform="translate(65.0 60.0) scale(0.66 1)" font-size="16.2" x="-1">100</text>
<text transform="translate(329.5 63.5) scale(0.66 1)" font-size="16.2" x="-1">110</text>
<text transform="translate(510.0 67.0) scale(0.66 1)" font-size="16.2" x="-1">102</text>
<text transform="translate(209.0 140.0) scale(0.66 1)" font-size="16.2" x="-1">212</text>
<text transform="translate(182.0 172.0) scale(0.66 1)" font-size="16.2" x="-1">210</text>
<text transform="translate(149.8 190.0) scale(0.66 1)" font-size="16.2" x="-1">208</text>
<text transform="translate(74.6 267.0) scale(0.66 1)" font-size="16.2" x="-1">112</text>
<text transform="translate(47.0 370.0) scale(0.66 1)" font-size="16.2" x="-1">202</text>
<text transform="translate(174.0 429.0) scale(0.66 1)" font-size="16.2" x="-1">200</text>
<path d="M173.5 431.6H192.5" stroke="#111" stroke-width="1.4" stroke-dasharray="1.6 0.5" fill="none"/>
<text transform="translate(281.7 339.0) scale(0.66 1)" font-size="16.2" x="-1">122</text>
<path d="M281.2 341.6H300.2" stroke="#111" stroke-width="1.4" stroke-dasharray="1.6 0.5" fill="none"/>
<text transform="translate(347.0 296.0) scale(0.66 1)" font-size="16.2" x="-1">114</text>
<text transform="translate(410.0 347.0) scale(0.66 1)" font-size="16.2" x="-1">120</text>
<text transform="translate(648.0 273.0) scale(0.66 1)" font-size="16.2" x="-1">108</text>
<path d="M647.5 275.6H666.5" stroke="#111" stroke-width="1.4" stroke-dasharray="1.6 0.5" fill="none"/>
<text transform="translate(494.0 467.0) scale(0.66 1)" font-size="16.2" x="-1">116</text>
<text transform="translate(350.8 500.5) scale(0.66 1)" font-size="16.2" x="-1">204</text>
<text transform="translate(391.0 491.0) scale(0.66 1)" font-size="16.2" x="-1">206</text>
<path d="M84.4 55C87 57 89 58.6 92 59.2C96 60 102 58.6 106.3 59C109 59.6 111 62 112.5 64.8" fill="none" stroke="#111" stroke-width="1.9" stroke-linecap="round"/>
<path d="M115.8 70.2L109.2 67.3L115 62.8Z" fill="#111" stroke="#111" stroke-width="0.8" stroke-linejoin="round"/>
</g>
</svg>
</body></html>
